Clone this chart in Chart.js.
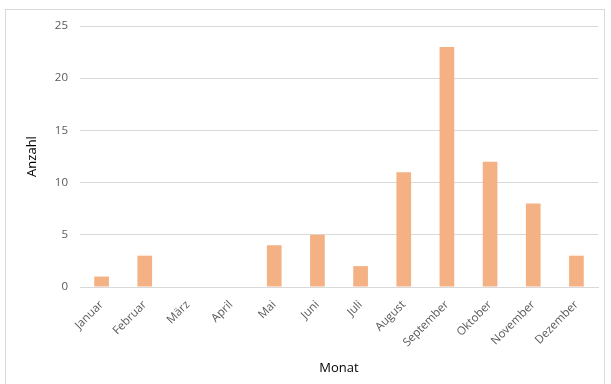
<!DOCTYPE html>
<html>
<head>
<meta charset="utf-8">
<script src="https://cdn.jsdelivr.net/npm/chart.js@4"></script>
<style>
  body { margin: 0; background: #fff; }
  #frame { position: absolute; left: 5px; top: 9px; width: 600px; height: 400px; border: 1px solid #d9d9d9; box-sizing: border-box; }
  #wrap { position: absolute; left: 0; top: 0; width: 611px; height: 384px; }
</style>
</head>
<body>
<div id="frame"></div>
<div id="wrap"><canvas id="chartBar" width="611" height="384"></canvas></div>
<script>
const monate = ['Januar', 'Februar', 'März', 'April', 'Mai', 'Juni', 'Juli', 'August', 'September', 'Oktober', 'November', 'Dezember'];
const anzahl = [1, 3, 0, 0, 4, 5, 2, 11, 23, 12, 8, 3];
const yTicks = [0, 5, 10, 15, 20, 25];

const tickFont = { family: 'Open Sans', size: 11.5 };

new Chart(document.getElementById('chartBar'), {
  type: 'bar',
  data: {
    labels: monate,
    datasets: [{
      label: 'Anzahl',
      data: anzahl,
      backgroundColor: '#f4b183',
      borderWidth: 0,
      barPercentage: 0.34,
      categoryPercentage: 1
    }]
  },
  options: {
    responsive: false,
    animation: false,
    layout: { padding: { left: 24, right: 13, top: 26, bottom: 8 } },
    plugins: {
      legend: { display: false },
      tooltip: { enabled: false }
    },
    scales: {
      x: {
        grid: { display: false },
        border: { display: true, color: '#d9d9d9', width: 1 },
        ticks: {
          color: '#595959',
          font: tickFont,
          minRotation: 45,
          maxRotation: 45,
          padding: 3
        },
        title: {
          display: true,
          text: 'Monat',
          color: '#000',
          font: { family: 'Open Sans', size: 13 },
          padding: { top: 0, bottom: 0 }
        },
        afterFit: function (scale) { scale.height = 384 - 287 - 8; }
      },
      y: {
        min: 0,
        max: 25,
        afterBuildTicks: function (scale) { scale.ticks = yTicks.map(v => ({ value: v })); },
        grid: { color: '#d9d9d9', drawTicks: false },
        border: { display: false },
        ticks: {
          color: '#595959',
          font: tickFont,
          padding: 12
        },
        title: {
          display: true,
          text: 'Anzahl',
          color: '#000',
          font: { family: 'Open Sans', size: 13 },
          padding: { top: 0, bottom: 0 }
        },
        afterFit: function (scale) { scale.width = 56; }
      }
    }
  }
});
</script>
</body>
</html>
